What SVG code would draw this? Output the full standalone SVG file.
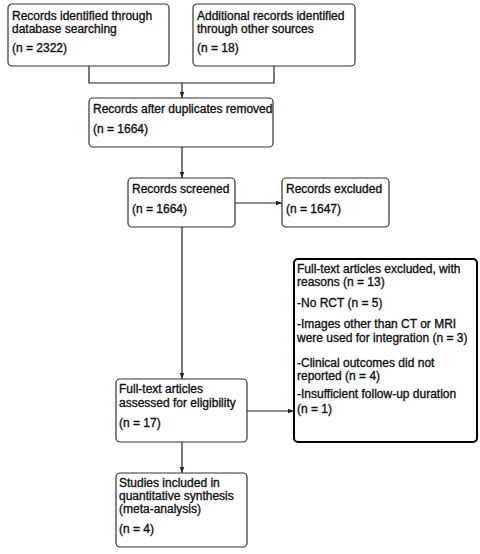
<svg xmlns="http://www.w3.org/2000/svg" width="480" height="554" viewBox="0 0 480 554">
<style>
.box{fill:#fff;stroke:#333;stroke-width:1.2}
.thick{fill:#fff;stroke:#000;stroke-width:2}
text{font-family:"Liberation Sans",Arial,sans-serif;font-size:12px;fill:#111;stroke:#111;stroke-width:0.35}
.c{fill:none;stroke:#222;stroke-width:1.2}
</style>
<defs>
<marker id="ah" viewBox="0 0 6 6" refX="6" refY="3" markerWidth="6" markerHeight="6" orient="auto" markerUnits="userSpaceOnUse">
<path d="M0,0.8 L6,3 L0,5.2 Z" fill="#222"/>
</marker>
</defs>
<g id="connectors">
<path class="c" d="M89,66 V83 H274 V66"/>
<path class="c" d="M182,83 V98" marker-end="url(#ah)"/>
<path class="c" d="M182,147 V178" marker-end="url(#ah)"/>
<path class="c" d="M235,203 H282" marker-end="url(#ah)"/>
<path class="c" d="M182,227 V379" marker-end="url(#ah)"/>
<path class="c" d="M247,411 H294" marker-end="url(#ah)"/>
<path class="c" d="M182,442 V473" marker-end="url(#ah)"/>
</g>
<g id="n1"><rect class="box" x="8" y="4" width="161" height="62" rx="4"/>
<text x="12" y="20">Records identified through</text><text x="12" y="33">database searching</text><text x="12" y="52">(n = 2322)</text></g>
<g id="n2"><rect class="box" x="193" y="4" width="162" height="62" rx="4"/>
<text x="197" y="20">Additional records identified</text><text x="197" y="33">through other sources</text><text x="197" y="52">(n = 18)</text></g>
<g id="n3"><rect class="box" x="89" y="98" width="184" height="49" rx="4"/>
<text x="93" y="113">Records after duplicates removed</text><text x="93" y="133">(n = 1664)</text></g>
<g id="n4"><rect class="box" x="128" y="178" width="107" height="49" rx="4"/>
<text x="132" y="193">Records screened</text><text x="132" y="213">(n = 1664)</text></g>
<g id="n5"><rect class="box" x="282" y="178" width="107" height="49" rx="4"/>
<text x="286" y="193">Records excluded</text><text x="286" y="213">(n = 1647)</text></g>
<g id="n6"><rect class="thick" x="294" y="259" width="183" height="183" rx="4"/>
<text x="297" y="273">Full-text articles excluded, with</text><text x="297" y="286">reasons (n = 13)</text>
<text x="297" y="307">-No RCT (n = 5)</text>
<text x="297" y="328">-Images other than CT or MRI</text><text x="297" y="342">were used for integration (n = 3)</text>
<text x="297" y="367">-Clinical outcomes did not</text><text x="297" y="380">reported (n = 4)</text>
<text x="297" y="398">-Insufficient follow-up duration</text><text x="297" y="413">(n = 1)</text></g>
<g id="n7"><rect class="box" x="116" y="379" width="131" height="63" rx="4"/>
<text x="119" y="393">Full-text articles</text><text x="119" y="407">assessed for eligibility</text><text x="119" y="427">(n = 17)</text></g>
<g id="n8"><rect class="box" x="116" y="473" width="131" height="74" rx="4"/>
<text x="119" y="487">Studies included in</text><text x="119" y="500">quantitative synthesis</text><text x="119" y="513">(meta-analysis)</text><text x="119" y="533">(n = 4)</text></g>
</svg>
